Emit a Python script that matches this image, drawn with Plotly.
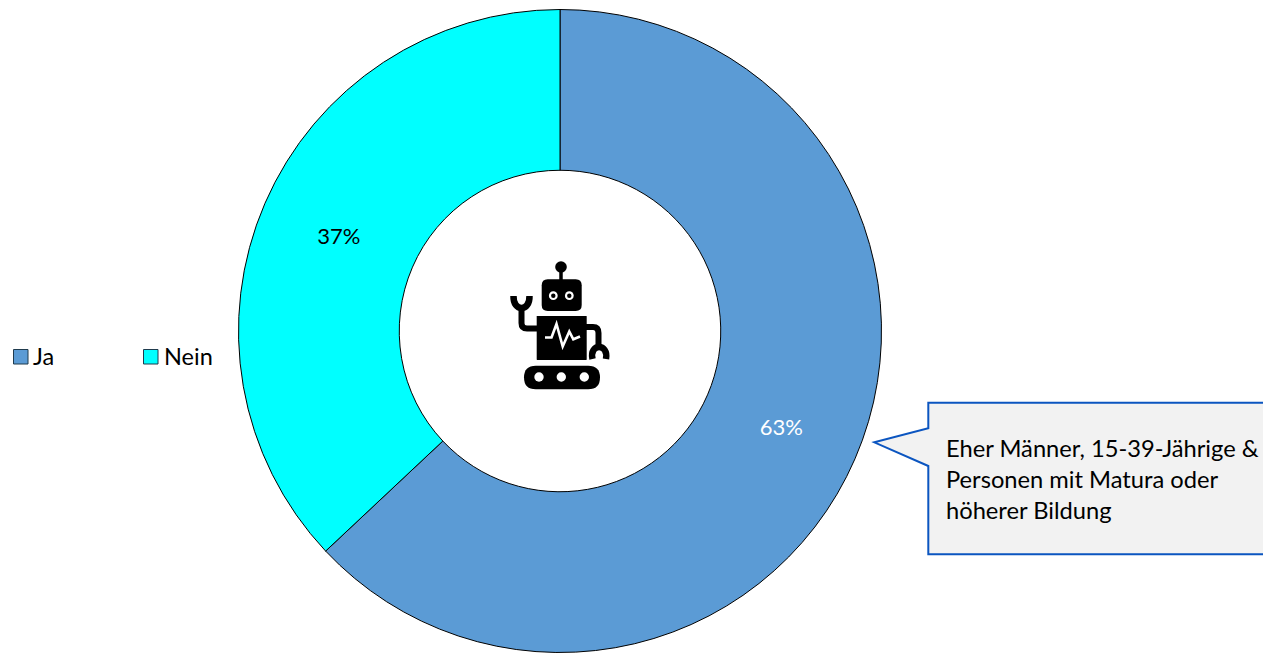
import plotly.graph_objects as go

W, H = 1263, 653
categories = ["Ja", "Nein"]
values = [63, 37]
colors = ["#5B9BD5", "#00FFFF"]
text_colors = ["#FFFFFF", "#000000"]
callout_lines = ["Eher Männer, 15-39-Jährige &", "Personen mit Matura oder", "höherer Bildung"]
FONT = "Lato, 'Open Sans', sans-serif"
legend_swatch_x = [13.5, 143.5]
legend_text_x = [31, 161.5]

def px(x): return x / W
def py(y): return 1 - y / H
def P(x, y): return f"{px(x):.5f},{py(y):.5f}"
def path(points, close=False):
    s = "M " + " L ".join(P(x, y) for x, y in points)
    return s + (" Z" if close else "")

def poly(points, fill, line="rgba(0,0,0,0)", w=0):
    return dict(type="path", xref="paper", yref="paper", path=path(points, True),
                fillcolor=fill, line=dict(color=line, width=w), layer="above")
def stroke(points, color="#000000", w=6):
    return dict(type="path", xref="paper", yref="paper", path=path(points),
                line=dict(color=color, width=w), fillcolor="rgba(0,0,0,0)", layer="above")
def circle(cx, cy, r, fill):
    return dict(type="circle", xref="paper", yref="paper", x0=px(cx-r), x1=px(cx+r),
                y0=py(cy+r), y1=py(cy-r), fillcolor=fill, line=dict(width=0), layer="above")
def rrect(x0, y0, x1, y1, r, fill="#000000"):
    s = (f"M {P(x0+r,y0)} L {P(x1-r,y0)} Q {P(x1,y0)} {P(x1,y0+r)} "
         f"L {P(x1,y1-r)} Q {P(x1,y1)} {P(x1-r,y1)} "
         f"L {P(x0+r,y1)} Q {P(x0,y1)} {P(x0,y1-r)} "
         f"L {P(x0,y0+r)} Q {P(x0,y0)} {P(x0+r,y0)} Z")
    return dict(type="path", xref="paper", yref="paper", path=s, fillcolor=fill,
                line=dict(width=0), layer="above")
def curve(d, w=6):
    return dict(type="path", xref="paper", yref="paper", path=d, fillcolor="rgba(0,0,0,0)",
                line=dict(color="#000000", width=w), layer="above")

cx, cy, R = 560, 331, 321.5
fig = go.Figure(go.Pie(
    labels=categories, values=values, sort=False, direction="clockwise", rotation=0,
    hole=0.5, marker=dict(colors=colors, line=dict(color="#000000", width=1)),
    texttemplate="%{percent:.0%}", textposition="inside", insidetextorientation="horizontal",
    textfont=dict(family=FONT, size=22, color=text_colors),
    domain=dict(x=[(cx-R)/W, (cx+R)/W], y=[1-(cy+R)/H, 1-(cy-R)/H]),
    showlegend=False,
))

shapes = [
    poly([(928.3, 402.7), (1270, 402.7), (1270, 554.3), (928.3, 554.3), (928.3, 466),
          (874.3, 442.3), (928.3, 428.3)], "#F2F2F2", "#0B55C0", 2),
    # robot
    stroke([(561, 267), (561, 282)], w=3.5), circle(561, 267, 5.8, "#000000"),
    rrect(541.7, 279.3, 581.7, 311, 6),
    circle(553.3, 295.7, 4.4, "#FFFFFF"), circle(569.3, 295.7, 4.4, "#FFFFFF"),
    circle(553.3, 295.7, 2.2, "#000000"), circle(569.3, 295.7, 2.2, "#000000"),
    rrect(536.7, 316, 586.7, 360, 0.5),
    curve(f"M {P(538,328.5)} L {P(527,328.5)} Q {P(521.5,328.5)} {P(521.5,323)} L {P(521.5,306)}"),
    curve(f"M {P(586,327)} L {P(593,327)} Q {P(598.5,327)} {P(598.5,333)} L {P(598.5,348)}"),
    curve(f"M {P(513.5,296)} C {P(513,312)} {P(530,312)} {P(529.5,296)}", 6.5),
    curve(f"M {P(592.5,359)} C {P(589,343)} {P(609,343)} {P(606,359)}", 6.5),
    stroke([(545, 337.5), (551.5, 337.5), (556.5, 324), (562.7, 346.5), (569.3, 331.5),
            (573.3, 339.3), (580, 336.5)], "#FFFFFF", 2.6),
    rrect(524, 365.7, 600, 389.3, 11.8),
    circle(539, 377, 4.7, "#FFFFFF"), circle(561.3, 377, 4.7, "#FFFFFF"), circle(584.3, 377, 4.7, "#FFFFFF"),
]
for sx, c in zip(legend_swatch_x, colors):
    shapes.append(dict(type="rect", xref="paper", yref="paper", x0=px(sx), x1=px(sx + 14.5),
                       y0=py(364), y1=py(349.5), fillcolor=c,
                       line=dict(color="#1F3A4D", width=1)))

ann = [dict(xref="paper", yref="paper", x=px(944), y=py(448 + 31 * i), text=t, showarrow=False,
            xanchor="left", yanchor="middle", align="left",
            font=dict(family=FONT, size=23.7, color="#000000"))
       for i, t in enumerate(callout_lines)]
ann += [dict(xref="paper", yref="paper", x=px(tx), y=py(356), text=t, showarrow=False,
             xanchor="left", yanchor="middle",
             font=dict(family=FONT, size=23.5, color="#000000"))
        for tx, t in zip(legend_text_x, categories)]

fig.update_layout(
    width=W, height=H, margin=dict(l=0, r=0, t=0, b=0), paper_bgcolor="#FFFFFF",
    font=dict(family=FONT, size=22, color="#000000"),
    shapes=shapes, annotations=ann,
)
fig.write_html("out.html", config=dict(displayModeBar=False),
               post_script="document.body.style.margin='0';document.body.style.overflow='hidden';")
